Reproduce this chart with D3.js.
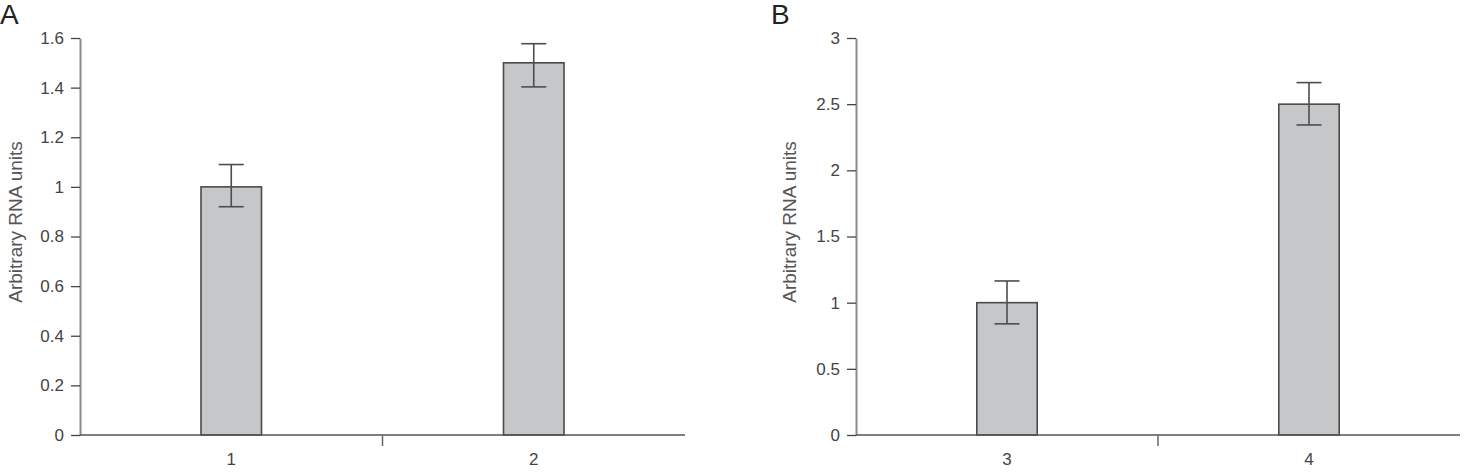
<!DOCTYPE html>
<html>
<head>
<meta charset="utf-8">
<script src="https://cdn.jsdelivr.net/npm/d3@7"></script>
<style>
  html, body { margin: 0; padding: 0; background: #fff; }
  svg text { font-family: Arial, "Liberation Sans", Helvetica, sans-serif; }
</style>
</head>
<body>
<div id="chart"></div>
<script>
// Data
const panelLetters = ['A', 'B'];
const categoriesA = ['1', '2'];
const valuesA = [1.0, 1.5];
const errHighA = [1.09, 1.577];
const errLowA = [0.92, 1.403];
const ticksA = [0, 0.2, 0.4, 0.6, 0.8, 1, 1.2, 1.4, 1.6];

const categoriesB = ['3', '4'];
const valuesB = [1.0, 2.5];
const errHighB = [1.164, 2.663];
const errLowB = [0.84, 2.343];
const ticksB = [0, 0.5, 1, 1.5, 2, 2.5, 3];

const yLabel = 'Arbitrary RNA units';

const panels = [
  { letter: panelLetters[0], cats: categoriesA, vals: valuesA, hi: errHighA, lo: errLowA, ticks: ticksA, left: 80, right: 685, letterX: 0, labelX: 15 },
  { letter: panelLetters[1], cats: categoriesB, vals: valuesB, hi: errHighB, lo: errLowB, ticks: ticksB, left: 856, right: 1460, letterX: 771, labelX: 789 }
];

const W = 1466;
const H = 472;
const plotTop = 38;
const plotBottom = 435;
const barFrac = 0.2;
const capW = 25;

const svg = d3.select('#chart').append('svg')
  .attr('width', W)
  .attr('height', H);

const fmt = d => String(+d.toFixed(1));

panels.forEach((p) => {
  const g = svg.append('g');

  const x = d3.scaleBand()
    .domain(p.cats)
    .range([p.left, p.right])
    .padding(0);

  const y = d3.scaleLinear()
    .domain([0, d3.max(p.ticks)])
    .range([plotBottom, plotTop]);

  // Panel letter
  g.append('text')
    .attr('x', p.letterX)
    .attr('y', 24)
    .attr('font-size', 28)
    .attr('fill', '#222')
    .text(p.letter);

  // Bars
  const bw = x.bandwidth() * barFrac;
  g.selectAll('rect.bar')
    .data(p.vals)
    .enter().append('rect')
    .attr('class', 'bar')
    .attr('x', (d, i) => x(p.cats[i]) + x.bandwidth() / 2 - bw / 2)
    .attr('y', d => y(d))
    .attr('width', bw)
    .attr('height', d => y(0) - y(d))
    .attr('fill', '#c6c7c9')
    .attr('stroke', '#4a4a4a')
    .attr('stroke-width', 1.6);

  // Error bars
  const eb = g.selectAll('g.err')
    .data(p.vals)
    .enter().append('g')
    .attr('class', 'err')
    .attr('stroke', '#4d4d4d')
    .attr('stroke-width', 1.6);

  const cx = i => x(p.cats[i]) + x.bandwidth() / 2;

  eb.append('line')
    .attr('x1', (d, i) => cx(i))
    .attr('x2', (d, i) => cx(i))
    .attr('y1', (d, i) => y(p.hi[i]))
    .attr('y2', (d, i) => y(p.lo[i]));

  eb.append('line')
    .attr('x1', (d, i) => cx(i) - capW / 2)
    .attr('x2', (d, i) => cx(i) + capW / 2)
    .attr('y1', (d, i) => y(p.hi[i]))
    .attr('y2', (d, i) => y(p.hi[i]));

  eb.append('line')
    .attr('x1', (d, i) => cx(i) - capW / 2)
    .attr('x2', (d, i) => cx(i) + capW / 2)
    .attr('y1', (d, i) => y(p.lo[i]))
    .attr('y2', (d, i) => y(p.lo[i]));

  // Y axis
  const yAxis = g.append('g')
    .attr('transform', `translate(${p.left},0)`)
    .call(d3.axisLeft(y).tickValues(p.ticks).tickFormat(fmt).tickSize(9).tickPadding(7).tickSizeOuter(0));

  yAxis.select('.domain')
    .attr('stroke', '#8a8a8a')
    .attr('stroke-width', 2);
  yAxis.selectAll('.tick line')
    .attr('stroke', '#444')
    .attr('stroke-width', 1.3);
  yAxis.selectAll('.tick text')
    .attr('font-size', 17)
    .attr('fill', '#444');

  // X axis line
  g.append('line')
    .attr('x1', p.left)
    .attr('x2', p.right)
    .attr('y1', y(0))
    .attr('y2', y(0))
    .attr('stroke', '#555')
    .attr('stroke-width', 1.5);

  // Boundary ticks between categories
  g.selectAll('line.xtick')
    .data(p.cats.slice(1))
    .enter().append('line')
    .attr('class', 'xtick')
    .attr('x1', d => x(d))
    .attr('x2', d => x(d))
    .attr('y1', y(0))
    .attr('y2', y(0) + 11)
    .attr('stroke', '#666')
    .attr('stroke-width', 1.5);

  // Category labels
  g.selectAll('text.xlab')
    .data(p.cats)
    .enter().append('text')
    .attr('class', 'xlab')
    .attr('x', d => x(d) + x.bandwidth() / 2)
    .attr('y', 465)
    .attr('text-anchor', 'middle')
    .attr('font-size', 17)
    .attr('fill', '#444')
    .text(d => d);

  // Y axis title
  g.append('text')
    .attr('transform', `translate(${p.labelX + 7},222) rotate(-90)`)
    .attr('text-anchor', 'middle')
    .attr('font-size', 19)
    .attr('fill', '#555')
    .text(yLabel);
});
</script>
</body>
</html>
